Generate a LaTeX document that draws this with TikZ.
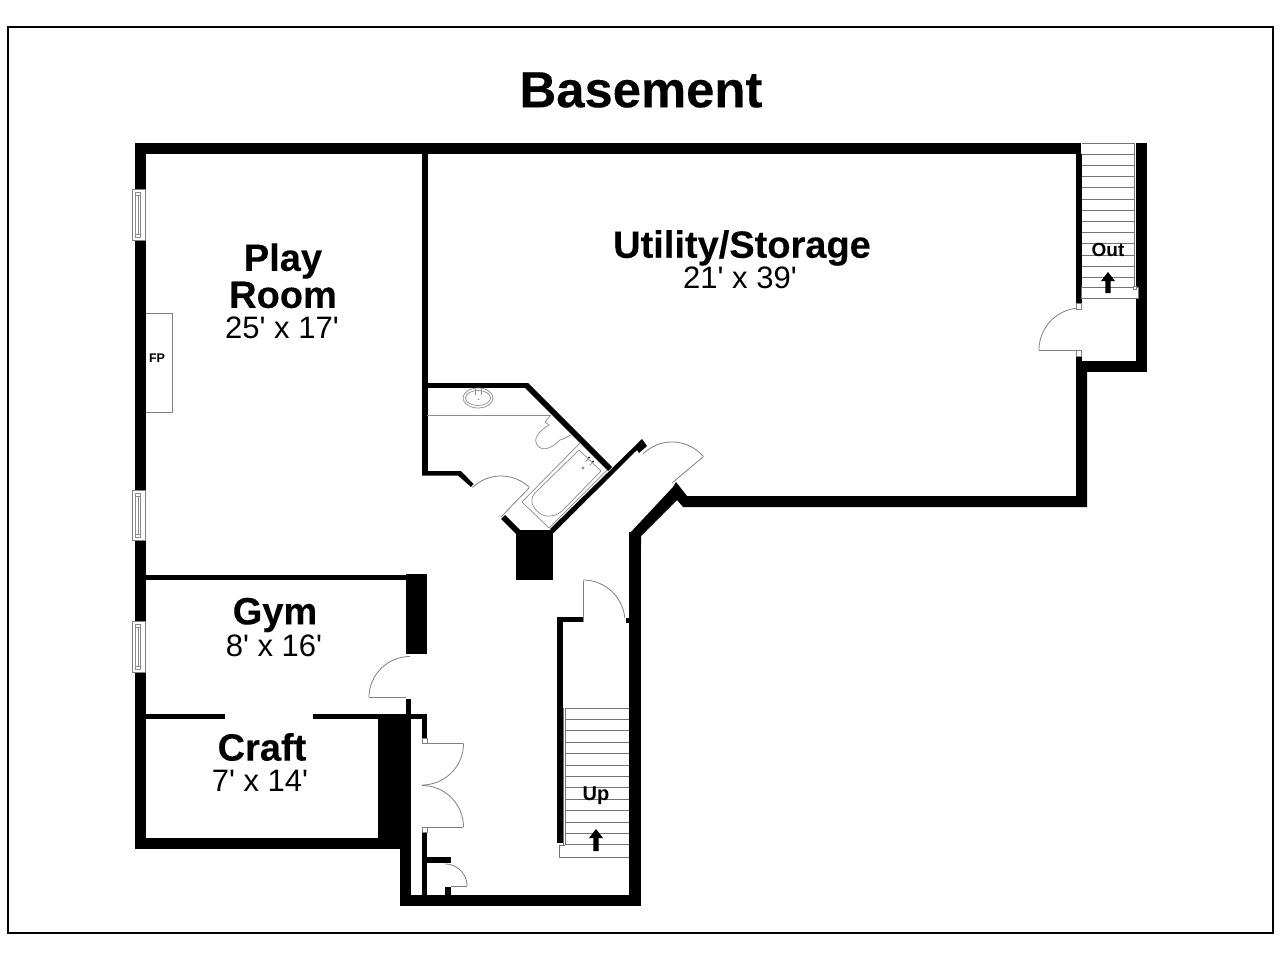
\documentclass[tikz,border=0pt]{standalone}
\usepackage{fontspec}
\setmainfont{Liberation Sans}[Ligatures=TeXOff]
\newfontfamily\heavy{Liberation Sans}[Ligatures=TeXOff,BoldFeatures={FakeBold=0.2}]
\tikzset{
 thin line/.style={draw=black!50,line width=0.8pt},
 fix/.style={draw=black!45,line width=0.7pt},
 tread/.style={draw=black!55,line width=0.8pt},
 lab/.style={font=\fontsize{38}{38}\selectfont\heavy\bfseries,text=black,inner sep=0pt,anchor=center},
 dim/.style={font=\fontsize{31}{31}\selectfont,text=black,inner sep=0pt,anchor=center},
}
\newcommand{\wl}[4]{\fill[black] (#1,#2) rectangle (#3,#4);}
\newcommand{\doorarc}[5]{\draw[thin line,variable=\t] plot[smooth,domain=#4:#5,samples=24] ({#1+#3*cos(\t)},{#2-#3*sin(\t)});}
\newcommand{\win}[2]{%
 \draw[thin line,fill=white] (132.5,#1) rectangle (145.5,#2);
 \draw[fix] (135.5,#1+3) rectangle (140.5,#2-3);
 \draw[fix] (135.5,#1+6) -- (140.5,#1+6) (135.5,#2-6) -- (140.5,#2-6) (138,#1+6) -- (138,#2-6);}
\newcommand{\arrowup}[3]{\fill[black] (#1-2.6,#3) -- (#1-2.6,#2+9) -- (#1-7,#2+9) -- (#1,#2) -- (#1+7,#2+9) -- (#1+2.6,#2+9) -- (#1+2.6,#3) -- cycle;}
\begin{document}
\begin{tikzpicture}[x=1pt,y=-1pt]
\useasboundingbox (0,0) rectangle (1280,960);
\fill[white] (0,0) rectangle (1280,960);
\draw[black,line width=2pt] (8,27) rectangle (1273,933);
\node[inner sep=0pt,font=\fontsize{50.8}{50.8}\selectfont\heavy\bfseries] (title) at (641,90) {Basement};
% outer walls
\wl{135}{143}{1081}{154}
\wl{135}{143}{146}{849}
\wl{135}{838}{411}{849}
\wl{400}{838}{411}{906}
\wl{400}{895}{641}{906}
\wl{629}{532}{641}{906}
\fill[black] (630,533) -- (673,487) -- (676,482) -- (687,496) -- (1076,496) -- (1076,372) -- (1087,372) -- (1087,507) -- (683,507) -- (677,500) -- (641,536) -- (641,545) -- (630,545) -- cycle;
% utility east wall and out stair
\wl{1076}{154}{1081.5}{303}
\wl{1076}{356}{1081.5}{372}
\wl{1076}{361}{1147}{372}
\wl{1136}{143}{1147}{372}
% inner walls
\wl{422}{154}{427.5}{475}
\wl{422}{383}{528}{388}
\fill[black] (525,383) -- (528,383) -- (612,467) -- (608,471) -- (525,388) -- cycle;
\fill[black] (422,471) -- (461,471) -- (473.5,484) -- (471,487) -- (458,475.5) -- (422,475.5) -- cycle;
\fill[black] (550,529) -- (642,439) -- (647,446) -- (639,453) -- (637,450) -- (553.5,533) -- cycle;
\fill[black] (505,515) -- (520,530) -- (516,534) -- (501,519) -- cycle;
\wl{516}{530}{553}{580}
% gym and craft
\wl{146}{574.5}{427}{580}
\wl{406}{574}{427}{654}
\wl{146}{713.5}{225}{719}
\wl{313}{713.5}{427}{719}
\wl{378}{714}{406}{838}
\wl{406}{699}{411}{840}
\wl{422}{714}{427}{738}
\wl{422}{832}{427}{895}
\wl{427}{857}{451}{863}
\wl{445}{887}{451}{895}
% stair up walls
\wl{557}{617}{563}{843}
\wl{557}{617}{583}{622}
\wl{626}{618}{629}{623}
% jamb squares
\draw[thin line,fill=white] (1076,303) rectangle (1081.5,309);
\draw[thin line,fill=white] (1076,350) rectangle (1081.5,356);
\draw[thin line,fill=white] (422,738.5) rectangle (427,743.5);
\draw[thin line,fill=white] (422,827) rectangle (427,832);
% windows
\win{189}{240}
\win{490}{540}
\win{621}{672}
% fireplace
\draw[thin line] (146,313) -- (172.5,313) -- (172.5,412) -- (146,412);
\node[inner sep=0pt,font=\fontsize{12.5}{12.5}\selectfont\bfseries] (fp) at (157,358) {FP};
% doors
\draw[thin line] (1076,350) -- (1039,350);
\doorarc{1081}{350}{42}{97}{180}{}
\draw[thin line] (529,488) -- (501,517);
\doorarc{501}{517}{41}{46}{134}{}
\draw[thin line] (672,483) -- (703,457);
\doorarc{672}{483}{41}{40}{135}{}
\draw[thin line] (369,697.5) -- (406,697.5);
\doorarc{410}{697.5}{41}{90}{180}{}
\draw[thin line] (427,743.5) -- (463,743.5);
\doorarc{422}{743.5}{41.5}{0}{-90}{}
\draw[thin line] (427,827) -- (463,827);
\doorarc{422}{827}{41.5}{0}{90}{}
\draw[thin line] (451,886) -- (467,886);
\doorarc{445}{886}{22}{0}{90}{}
\draw[thin line] (583,622) -- (583,581);
\doorarc{583}{622}{42}{5}{90}{}
% out stair
\foreach \i in {0,...,13} {\draw[tread] (1081.5,143+\i*11.2) -- (1134,143+\i*11.2);}
\draw[tread] (1134,143) -- (1134,288);
\draw[tread,fill=white] (1081.5,287.5) rectangle (1138,298);
\draw[thin line,fill=white] (1133,286) rectangle (1136.5,289.5);
\arrowup{1108}{272}{293}
\node[inner sep=0pt,font=\fontsize{19}{19}\selectfont\bfseries] (out) at (1108,250) {Out};
% up stair
\foreach \i in {0,...,12} {\draw[tread] (565,708+\i*11.4) -- (629,708+\i*11.4);}
\draw[tread] (563,708) -- (563,845) (565.5,708) -- (565.5,845);
\draw[tread] (565,845) -- (559.5,845) -- (559.5,857) -- (629,857);
\arrowup{596}{829}{851}
\node[inner sep=0pt,font=\fontsize{20}{20}\selectfont\bfseries] (up) at (596,796) {Up};
% bath fixtures
\draw[fix] (427,415) -- (551,415);
\draw[fix] (478,398) ellipse [x radius=15,y radius=10];
\draw[fix] (478,398) ellipse [x radius=12.5,y radius=7.5];
\draw[fix,line width=1pt] (475,389) -- (475,395) (481,389) -- (481,395);
\fill[black!60] (478.5,399.5) circle (0.7);
% toilet
\draw[fix] (550,416) -- (545,422) -- (549,425) .. controls (538,431) and (533,440) .. (537,445) .. controls (543,453) and (553,447) .. (560,440) -- (563,439) -- (571,435);
% tub
\draw[fix] (580,443) -- (607,470) -- (549,528) -- (522,502) -- cycle;
\draw[fix] (579,450) -- (601,471) -- (563,510) .. controls (556,517) and (544,519) .. (537,511) .. controls (531,505) and (530,498) .. (535,493) -- cycle;
\fill[black] (589,457.5) circle (1) (593,461.5) circle (1);
\draw[fix] (588,459) -- (585.5,461.5) (592,463) -- (589.5,465.5);
\draw[fix] (583,468) circle (1.2);
% labels
\node[lab] (play) at (283,261) {Play};
\node[lab] (room) at (283,295) {Room};
\node[dim] (playd) at (282,328) {25' x 17'};
\node[lab] (util) at (742,248) {Utility/Storage};
\node[dim] (utild) at (740,278) {21' x 39'};
\node[lab] (gym) at (275,615) {Gym};
\node[dim] (gymd) at (274,646) {8' x 16'};
\node[lab] (craft) at (262,747) {Craft};
\node[dim] (craftd) at (260,781) {7' x 14'};
\end{tikzpicture}
\end{document}
